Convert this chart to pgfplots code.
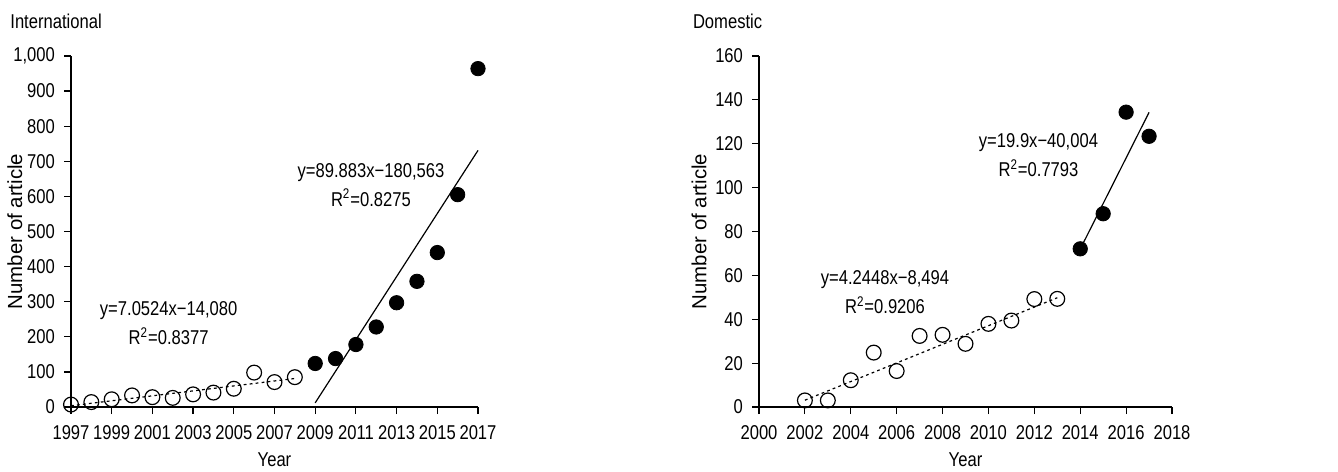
\documentclass[border=0pt]{standalone}
\usepackage{fontspec}
\setmainfont{Liberation Sans}[FakeStretch=0.83]
\newfontfamily\labelfont{Liberation Sans}
\usepackage{pgfplots}
\pgfplotsset{compat=1.18}

% one style for both panels
\pgfplotsset{
  trendax/.style={
    scale only axis,
    height=175.5pt,
    axis x line*=bottom,
    axis y line*=left,
    axis line style={line width=0.6pt,-},
    tick style={line width=0.6pt,black},
    tick align=outside,
    major tick length=3.5pt,
    font=\fontsize{10}{11}\selectfont,
    /pgf/number format/assume math mode=true,
    xticklabel style={/pgf/number format/1000 sep={},yshift=-2pt},
    yticklabel style={/pgf/number format/1000 sep={,},xshift=-1pt},
    xlabel={Year},
    ylabel={\labelfont\fontsize{10.2}{11}\selectfont Number of article},
    clip=false,
  },
  openpt/.style={only marks,mark=o,mark size=3.7pt,mark options={line width=0.6pt,fill=white}},
  fullpt/.style={only marks,mark=*,mark size=3.6pt,mark options={fill=black}},
  dotfit/.style={black,line width=0.6pt,dash pattern=on 1.4pt off 1.6pt},
  solfit/.style={black,line width=0.6pt},
}
\tikzset{eqn/.style={anchor=center,align=center,font=\fontsize{10}{14.5}\selectfont}}

\begin{document}
\begin{tikzpicture}
\useasboundingbox (-35.5pt,-32pt) rectangle (633.5pt,203.5pt);

% International
\begin{axis}[trendax,
    width=203.5pt,
    xmin=1997, xmax=2017, ymin=0, ymax=1000,
    xtick={1997,1999,...,2017},
    ytick={0,100,...,1000},
    xlabel style={at={(axis description cs:0.5,-0.151)},anchor=center},
    ylabel style={at={(axis description cs:-0.138,0.5)},anchor=center},
]
\addplot[dotfit] coordinates {(1997,3.6) (2008,81.2)};
\addplot[solfit] coordinates {(2009,11.9) (2017,731)};
\addplot[openpt] coordinates {
  (1997,7) (1998,14) (1999,22) (2000,33) (2001,28) (2002,26)
  (2003,36) (2004,41) (2005,52) (2006,98) (2007,71) (2008,85)
};
\addplot[fullpt] coordinates {
  (2009,124) (2010,138) (2011,178) (2012,228) (2013,297)
  (2014,358) (2015,440) (2016,605) (2017,964)
};
\node[eqn] at (axis cs:2001.8,238) {y=7.0524x−14,080\\R\textsuperscript{2}=0.8377};
\node[eqn] at (axis cs:2011.74,633) {y=89.883x−180,563\\R\textsuperscript{2}=0.8275};
\end{axis}

% Domestic
\begin{axis}[trendax,
    at={(344pt,0pt)},
    width=206.5pt,
    xmin=2000, xmax=2018, ymin=0, ymax=160,
    xtick={2000,2002,...,2018},
    ytick={0,20,...,160},
    xlabel style={at={(axis description cs:0.5,-0.151)},anchor=center},
    ylabel style={at={(axis description cs:-0.145,0.5)},anchor=center},
]
\addplot[dotfit] coordinates {(2002,3.1) (2013,49.8)};
\addplot[solfit] coordinates {(2014,72) (2017,134.3)};
\addplot[openpt] coordinates {
  (2002,3) (2003,3) (2004,12.2) (2005,24.8) (2006,16.4) (2007,32.4)
  (2008,32.9) (2009,28.8) (2010,37.9) (2011,39.4) (2012,49.2) (2013,49.3)
};
\addplot[fullpt] coordinates {
  (2014,72.1) (2015,88.1) (2016,134.4) (2017,123.4)
};
\node[eqn] at (axis cs:2005.49,52.3) {y=4.2448x−8,494\\R\textsuperscript{2}=0.9206};
\node[eqn] at (axis cs:2012.18,114.6) {y=19.9x−40,004\\R\textsuperscript{2}=0.7793};
\end{axis}

\node[anchor=base west,inner sep=0pt,font=\fontsize{10}{11}\selectfont] at (-30.5pt,189pt) {International};
\node[anchor=base west,inner sep=0pt,font=\fontsize{10}{11}\selectfont] at (310.8pt,189pt) {Domestic};
\end{tikzpicture}
\end{document}
